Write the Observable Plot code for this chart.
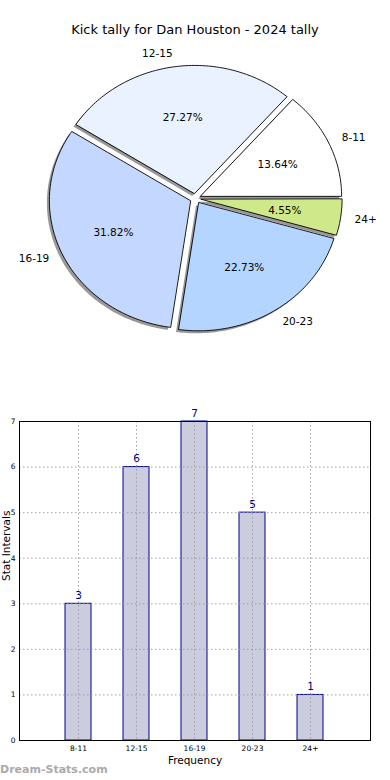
<!DOCTYPE html>
<html>
<head>
<meta charset="utf-8">
<script src="https://cdn.jsdelivr.net/npm/d3@7"></script>
<script src="https://cdn.jsdelivr.net/npm/@observablehq/plot@0.6"></script>
<style>
  html, body { margin: 0; padding: 0; background: #fff; }
  body { width: 390px; height: 780px; position: relative; overflow: hidden; font-family: "DejaVu Sans", sans-serif; }
  #title { position: absolute; left: 0; width: 390px; top: 22px; text-align: center; font-size: 13px; color: #000; line-height: 16px; }
  #pie { position: absolute; left: 0; top: 0; }
  #bar { position: absolute; left: 0; top: 400px; }
  #wm { position: absolute; left: 0; top: 763px; font-size: 11px; font-weight: bold; color: #aaa; line-height: 14px; }
</style>
</head>
<body>
<div id="pie"></div>
<div id="title">Kick tally for Dan Houston - 2024 tally</div>
<div id="bar"></div>
<div id="wm">Dream-Stats.com</div>
<script>
const categories = ["8-11", "12-15", "16-19", "20-23", "24+"];
const values = [3, 6, 7, 5, 1];
const sliceColors = ["#ffffff", "#eaf1ff", "#c4d8ff", "#b3d5ff", "#cfe98a"];
const titleText = "Kick tally for Dan Houston - 2024 tally";
const xLabel = "Frequency";
const yLabel = "Stat Intervals";

// ---- pie geometry derived from data ----
const total = d3.sum(values);
const explode = 0.04;
const slices = [];
const outline = [];
let start = 0;
values.forEach((v, i) => {
  const a0 = start, a1 = start + v / total * 2 * Math.PI;
  start = a1;
  const mid = (a0 + a1) / 2;
  const cx = explode * Math.cos(mid), cy = explode * Math.sin(mid);
  outline.push({k: i, x: cx, y: cy});
  const n = Math.max(8, Math.ceil((a1 - a0) / 0.02));
  for (let j = 0; j <= n; j++) {
    const a = a0 + (a1 - a0) * j / n;
    outline.push({k: i, x: cx + Math.cos(a), y: cy + Math.sin(a)});
  }
  slices.push({
    cat: categories[i], value: v, color: sliceColors[i],
    pct: (v / total * 100).toFixed(2) + "%",
    px: cx + 0.6 * Math.cos(mid), py: cy + 0.6 * Math.sin(mid),
    lx: cx + 1.1 * Math.cos(mid), ly: cy + 1.1 * Math.sin(mid),
    right: Math.cos(mid) >= 0
  });
});

const pieW = 390, pieH = 360, rx = 141, ry = 128, ccx = 195, ccy = 198;
const pie = Plot.plot({
  width: pieW, height: pieH,
  margin: 0,
  x: {domain: [-ccx / rx, (pieW - ccx) / rx], axis: null},
  y: {domain: [-(pieH - ccy) / ry, ccy / ry], axis: null},
  style: {fontFamily: "DejaVu Sans, sans-serif", background: "transparent"},
  marks: [
    Plot.line(outline, {x: "x", y: "y", z: "k", curve: "linear-closed", fill: "#444", fillOpacity: 0.55, stroke: "none", dx: -2.5, dy: 2.5}),
    Plot.line(outline, {x: "x", y: "y", z: "k", curve: "linear-closed", fill: d => sliceColors[d.k], stroke: "#000", strokeWidth: 0.9}),
    Plot.text(slices, {x: "px", y: "py", text: "pct", fontSize: 10.5, fill: "#000"}),
    Plot.text(slices.filter(d => d.right), {x: "lx", y: "ly", text: "cat", fontSize: 10.5, textAnchor: "start", fill: "#000"}),
    Plot.text(slices.filter(d => !d.right), {x: "lx", y: "ly", text: "cat", fontSize: 10.5, textAnchor: "end", fill: "#000"})
  ]
});
document.getElementById("pie").append(pie);

// ---- bar chart ----
const barData = categories.map((c, i) => ({cat: c, value: values[i]}));
const bar = Plot.plot({
  width: 390, height: 370,
  marginTop: 21, marginBottom: 30, marginLeft: 19, marginRight: 20,
  style: {fontFamily: "DejaVu Sans, sans-serif", background: "transparent"},
  x: {domain: categories, paddingInner: 0.55, paddingOuter: 0.775, axis: null},
  y: {domain: [0, 7], axis: null},
  marks: [
    Plot.barY(barData, {x: "cat", y: "value", fill: "#ccccdf", stroke: "#00008b", strokeWidth: 1}),
    Plot.gridX({stroke: "#999", strokeOpacity: 0.9, strokeDasharray: "1.5,2.5"}),
    Plot.gridY({ticks: d3.range(0, 8), stroke: "#999", strokeOpacity: 0.9, strokeDasharray: "1.5,2.5"}),
    Plot.frame({stroke: "#000", strokeWidth: 1}),
    Plot.axisX({tickSize: 0, tickPadding: 5, fontSize: 7.5, label: null, fill: "#000"}),
    Plot.axisY({ticks: d3.range(0, 8), tickSize: 0, tickPadding: 4, fontSize: 7.5, label: null, tickFormat: d3.format("d"), fill: "#000"}),
    Plot.text(barData, {x: "cat", y: "value", text: d => String(d.value), dy: -8, fontSize: 10.5, fill: "#00008b"}),
    Plot.text([xLabel], {text: d => d, frameAnchor: "bottom", lineAnchor: "middle", dy: 20, fontSize: 10.5, fill: "#000"}),
    Plot.text([yLabel], {text: d => d, frameAnchor: "left", lineAnchor: "middle", rotate: -90, dx: -13, fontSize: 10.5, fill: "#000"})
  ]
});
document.getElementById("bar").append(bar);
</script>
</body>
</html>
